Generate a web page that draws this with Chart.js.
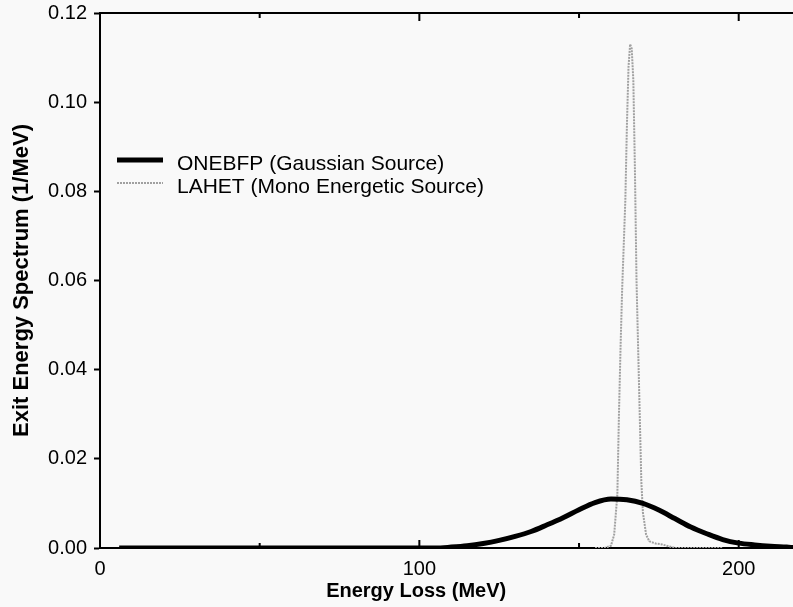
<!DOCTYPE html>
<html>
<head>
<meta charset="utf-8">
<script src="https://cdn.jsdelivr.net/npm/chart.js@4"></script>
<style>
html,body{margin:0;padding:0;background:#f9f9f9;overflow:hidden;}
#wrap{width:793px;height:607px;}
</style>
</head>
<body>
<div id="wrap"><canvas id="c" width="793" height="607"></canvas></div>
<script>
// ONEBFP (Gaussian Source)
const onebfpX = [6,10,15,20,25,30,35,40,45,50,55,60,65,70,75,80,85,90,95,100,105,110,115,120,125,130,135,140,145,150,155,160,165,170,175,180,185,190,195,200,205,210,215,217];
const onebfpY = [0,0,0,0,0,0,0,0,0,0,0,0,0,0,0,0,0,0,0,0,0,0.0002,0.0005,0.0010,0.0017,0.0026,0.0037,0.0052,0.0068,0.0086,0.0102,0.0110,0.0108,0.0100,0.0085,0.0066,0.0047,0.0032,0.0019,0.0011,0.0007,0.0004,0.0002,0.0001];
// LAHET (Mono Energetic Source)
const lahetX = [155,158,160,161,162,162.5,163,163.5,164,164.5,165,165.5,166,166.5,167,167.5,168,168.5,169,169.5,170,171,172,174,176,178,180,185,195];
const lahetY = [0,0,0.0005,0.003,0.012,0.030,0.045,0.058,0.068,0.078,0.095,0.108,0.113,0.112,0.105,0.085,0.060,0.045,0.030,0.015,0.008,0.003,0.0015,0.001,0.0008,0.0004,0,0,0];
const seriesLabels = ["ONEBFP (Gaussian Source)", "LAHET (Mono Energetic Source)"];
const yTicks = [0, 0.02, 0.04, 0.06, 0.08, 0.10, 0.12];
const xTicks = [0, 100, 200];
const xMinorTicks = [50, 150];
const xTitle = "Energy Loss (MeV)";
const yTitle = "Exit Energy Spectrum (1/MeV)";

const FAM = '"Liberation Sans", Arial, sans-serif';
const toPts = (xs, ys) => xs.map((x, i) => ({x: x, y: ys[i]}));

const extrasPlugin = {
  id: 'extras',
  afterDraw(chart) {
    const ctx = chart.ctx;
    const xs = chart.scales.x;
    const ca = chart.chartArea;
    ctx.save();
    ctx.strokeStyle = '#000';
    ctx.lineWidth = 2;
    // inward ticks on bottom and top
    xTicks.concat(xMinorTicks).forEach(v => {
      if (v === 0) return;
      const px = xs.getPixelForValue(v);
      const len = xMinorTicks.includes(v) ? 5 : 8;
      ctx.beginPath();
      ctx.moveTo(px, ca.bottom); ctx.lineTo(px, ca.bottom - len);
      ctx.moveTo(px, ca.top); ctx.lineTo(px, ca.top + len);
      ctx.stroke();
    });
    // x title
    ctx.fillStyle = '#000';
    ctx.font = 'bold 20px ' + FAM;
    ctx.textAlign = 'center';
    ctx.textBaseline = 'middle';
    ctx.fillText(xTitle, xs.getPixelForValue(99), 591);
    // legend
    const ds = chart.data.datasets;
    const lx0 = 117, lx1 = 163, tx = 177;
    const rows = [160, 183];
    ds.forEach((d, i) => {
      ctx.save();
      ctx.strokeStyle = d.borderColor;
      ctx.lineWidth = i === 0 ? 5 : 2;
      ctx.setLineDash(d.borderDash || []);
      ctx.beginPath();
      ctx.moveTo(lx0, rows[i]); ctx.lineTo(lx1, rows[i]);
      ctx.stroke();
      ctx.restore();
      ctx.fillStyle = '#000';
      ctx.font = '21px ' + FAM;
      ctx.textAlign = 'left';
      ctx.textBaseline = 'middle';
      ctx.fillText(d.label, tx, rows[i] + 4);
    });
    ctx.restore();
  }
};

new Chart(document.getElementById('c'), {
  type: 'line',
  data: {
    datasets: [
      {
        label: seriesLabels[0],
        data: toPts(onebfpX, onebfpY),
        borderColor: '#000',
        borderWidth: 5,
        pointRadius: 0,
        cubicInterpolationMode: 'monotone',
        fill: false
      },
      {
        label: seriesLabels[1],
        data: toPts(lahetX, lahetY),
        borderColor: '#a0a0a0',
        borderWidth: 2,
        borderDash: [2, 1],
        pointRadius: 0,
        tension: 0,
        fill: false
      }
    ]
  },
  options: {
    responsive: false,
    animation: false,
    layout: {padding: {left: 0, right: 0, top: 0, bottom: 0}},
    plugins: {legend: {display: false}, tooltip: {enabled: false}},
    scales: {
      x: {
        type: 'linear', position: 'bottom', min: 0, max: 217,
        afterBuildTicks(s) { s.ticks = xTicks.map(v => ({value: v})); },
        ticks: {color: '#000', font: {size: 20, family: FAM}, padding: 9, maxRotation: 0, includeBounds: false},
        grid: {display: true, drawOnChartArea: false, drawTicks: false},
        border: {display: true, color: '#000', width: 2},
        afterFit(s) { s.height = 59; }
      },
      xTop: {
        type: 'linear', axis: 'x', position: 'top', min: 0, max: 217,
        ticks: {display: false},
        grid: {display: true, drawOnChartArea: false, drawTicks: false},
        border: {display: true, color: '#000', width: 2},
        afterFit(s) { s.height = 13; }
      },
      y: {
        type: 'linear', min: 0, max: 0.12,
        afterBuildTicks(s) { s.ticks = yTicks.map(v => ({value: v})); },
        ticks: {color: '#000', font: {size: 20, family: FAM, lineHeight: 1}, padding: 7,
          callback: v => Number(v).toFixed(2)},
        grid: {display: true, drawOnChartArea: false, drawTicks: true, tickLength: 6, tickColor: '#000', tickWidth: 2},
        border: {display: true, color: '#000', width: 2},
        title: {display: true, text: yTitle, color: '#000', font: {size: 22, weight: 'bold', family: FAM}, padding: {top: 9, bottom: 4}},
        afterFit(s) { s.width = 100; s.paddingTop = 0; s.paddingBottom = 0; }
      }
    }
  },
  plugins: [extrasPlugin]
});
</script>
</body>
</html>
